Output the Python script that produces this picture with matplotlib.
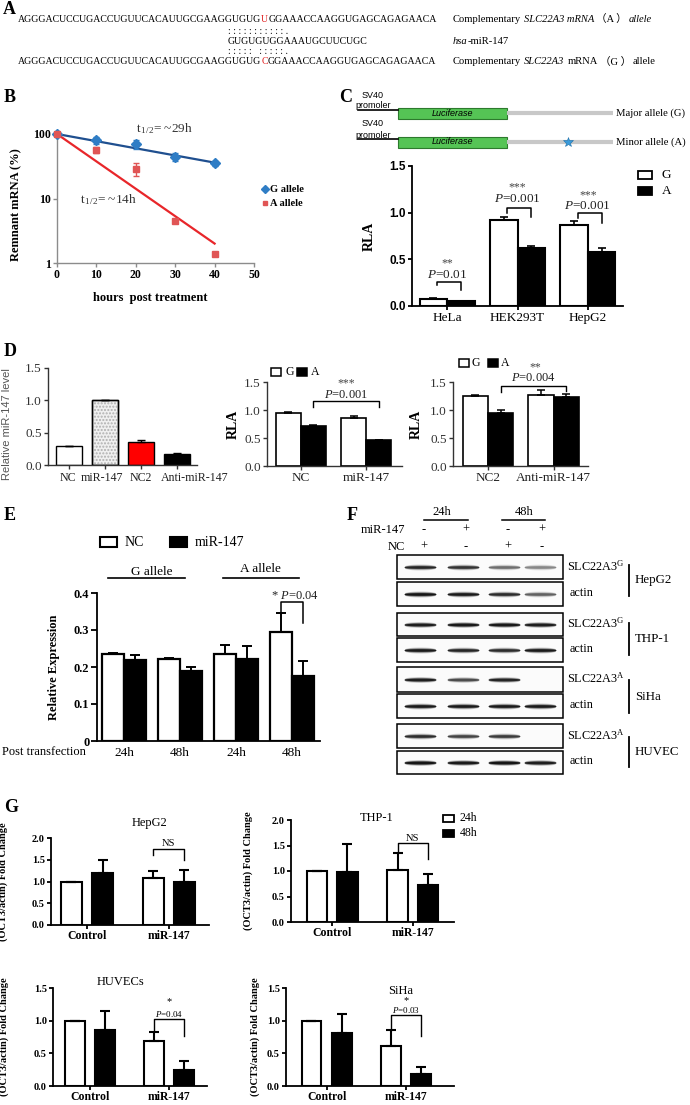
import numpy as np
import matplotlib
matplotlib.use('Agg')
import matplotlib.pyplot as plt
from matplotlib.patches import Rectangle
from matplotlib.ticker import NullLocator

# ---------------- data ----------------
# A: sequences
seq_left = "AGGGACUCCUGACCUGUUCACAUUGCGAAGGUGUG"
seq_right = "GGAAACCAAGGUGAGCAGAGAACA"
snp_minor = "U"
snp_major = "C"
mir147_seq = "GUGUGUGGAAAUGCUUCUGC"
pair_top = ": : : : : : : : : : : ."
pair_bottom = ": : : : :   : : : : : ."

# B: mRNA decay
b_hours = [0, 10, 20, 30, 40]
b_G = [100, 80, 70, 44, 35]
b_G_err = [4, 9, 11, 6, 3]
b_A = [100, 57, 29, 4.5, 1.4]
b_A_err = [3, 6, 7, 0.3, 0.1]
b_fit_hours = [0, 40]
b_G_fit = [100, 36]
b_A_fit = [100, 2.0]

# C: luciferase
c_cells = ['HeLa', 'HEK293T', 'HepG2']
c_G = [0.08, 0.92, 0.87]
c_G_err = [0.005, 0.035, 0.04]
c_A = [0.05, 0.62, 0.58]
c_A_err = [0.003, 0.02, 0.04]
c_p = ['0.01', '0.001', '0.001']
c_stars = ['**', '***', '***']

# D
d1_groups = ['NC', 'miR-147', 'NC2', 'Anti-miR-147']
d1_vals = [0.29, 1.0, 0.35, 0.17]
d1_err = [0.01, 0.0, 0.03, 0.015]
d2_groups = ['NC', 'miR-147']
d2_G = [0.94, 0.86]
d2_G_err = [0.03, 0.03]
d2_A = [0.71, 0.46]
d2_A_err = [0.02, 0.01]
d3_groups = ['NC2', 'Anti-miR-147']
d3_G = [1.25, 1.27]
d3_G_err = [0.01, 0.08]
d3_A = [0.95, 1.24]
d3_A_err = [0.05, 0.05]

# E
e_times = ['24h', '48h', '24h', '48h']
e_NC = [0.235, 0.221, 0.235, 0.295]
e_NC_err = [0.003, 0.002, 0.025, 0.05]
e_mir = [0.218, 0.188, 0.221, 0.175]
e_mir_err = [0.015, 0.013, 0.035, 0.04]

# F: western blot band intensities (lanes: 24h NC, 24h miR, 48h NC, 48h miR)
f_mir = ['-', '+', '-', '+']
f_nc = ['+', '-', '+', '-']
f_hepg2_slc = [0.85, 0.75, 0.45, 0.35]
f_hepg2_actin = [1.0, 0.95, 0.8, 0.5]
f_thp1_slc = [0.9, 0.95, 0.95, 0.9]
f_thp1_actin = [0.95, 0.85, 0.8, 0.95]
f_siha_slc = [0.9, 0.6, 0.85, 0.0]
f_siha_actin = [0.95, 0.95, 0.95, 0.95]
f_huvec_slc = [0.8, 0.65, 0.7, 0.0]
f_huvec_actin = [1.0, 0.95, 1.0, 0.9]

# G
g_groups = ['Control', 'miR-147']
g_hepg2_24 = [1.0, 1.08]; g_hepg2_24_err = [0.0, 0.15]
g_hepg2_48 = [1.19, 0.98]; g_hepg2_48_err = [0.30, 0.28]
g_thp1_24 = [1.0, 1.02]; g_thp1_24_err = [0.0, 0.33]
g_thp1_48 = [0.98, 0.73]; g_thp1_48_err = [0.55, 0.22]
g_huvec_24 = [1.0, 0.69]; g_huvec_24_err = [0.0, 0.14]
g_huvec_48 = [0.85, 0.25]; g_huvec_48_err = [0.30, 0.13]
g_siha_24 = [1.0, 0.61]; g_siha_24_err = [0.0, 0.24]
g_siha_48 = [0.81, 0.18]; g_siha_48_err = [0.29, 0.11]

# ---------------- setup ----------------
W, H, DPI = 690, 1105, 100
SERIF = ['Liberation Serif', 'Noto Sans CJK SC', 'DejaVu Serif']
SANS = ['Liberation Sans', 'DejaVu Sans']
plt.rcParams['font.family'] = SERIF
plt.rcParams['mathtext.fontset'] = 'custom'
plt.rcParams['mathtext.rm'] = 'Liberation Serif'
plt.rcParams['mathtext.it'] = 'Liberation Serif:italic'
plt.rcParams['mathtext.bf'] = 'Liberation Serif:bold'

fig = plt.figure(figsize=(W / DPI, H / DPI), dpi=DPI)
fig.patch.set_facecolor('white')


def add_ax(l, t, r, b):
    ax = fig.add_axes([l / W, 1 - b / H, (r - l) / W, (b - t) / H])
    ax.patch.set_alpha(0)
    return ax


axO = fig.add_axes([0, 0, 1, 1])
axO.set_xlim(0, W)
axO.set_ylim(H, 0)
axO.set_axis_off()
axO.set_zorder(5)


def T(x, y, s, size=9, **kw):
    kw.setdefault('ha', 'left')
    kw.setdefault('va', 'center')
    return axO.text(x, y, s, fontsize=size, **kw)


renderer = fig.canvas.get_renderer()


def chain(x, y, pieces, size):
    for s, st, gap in pieces:
        t = T(x, y, s, size=size, **st)
        bb = t.get_window_extent(renderer)
        x += bb.width + gap


def style(ax, color='black', lw=1.2, tl=3):
    for s in ['top', 'right']:
        ax.spines[s].set_visible(False)
    for s in ['left', 'bottom']:
        ax.spines[s].set_color(color)
        ax.spines[s].set_linewidth(lw)
    ax.tick_params(direction='out', length=tl, width=lw, color=color, pad=1.5)


def upbars(ax, x, v, e, lw=1.2, cap=3):
    ax.errorbar(x, v, yerr=[np.zeros(len(e)), e], fmt='none', ecolor='black',
                elinewidth=lw, capsize=cap, capthick=lw, zorder=3)


def bracket(ax, x1, x2, ytop, y1, y2, lw=1.0):
    ax.plot([x1, x1, x2, x2], [y1, ytop, ytop, y2], color='black', lw=lw,
            clip_on=False, zorder=4)


def box_leg(x, y, w, h, fc, lw=1.3):
    axO.add_patch(Rectangle((x, y - h / 2), w, h, fc=fc, ec='black', lw=lw))


# ---------------- panel letters ----------------
for lab, (lx, ly) in {'A': (3, 10), 'B': (4, 97), 'C': (339, 97), 'D': (4, 352),
                      'E': (4, 515), 'F': (347, 515), 'G': (4, 808)}.items():
    T(lx, ly, lab, size=13, fontweight='bold')

# ---------------- A ----------------
red = dict(color='#e02020')
chain(18, 19, [(seq_left, {}, 0), (snp_minor, red, 0), (seq_right, {}, 0)], 7.1)
T(228, 31, pair_top, size=7)
T(228, 41, mir147_seq, size=7.1)
T(228, 51, pair_bottom, size=7)
chain(18, 62, [(seq_left, {}, 0), (snp_major, red, 0), (seq_right, {}, 0)], 7.1)
it = dict(style='italic')
chain(453, 19, [('Complementary', {}, 3), ('SLC22A3 mRNA', it, 2), ('（A ）', {}, 2),
                ('allele', it, 0)], 7.6)
chain(453, 41, [('hsa', it, 0), ('-miR-147', {}, 0)], 7.6)
chain(453, 62, [('Complementary', {}, 3), ('SLC22A3', it, 3), ('mRNA', {}, 2),
                ('（G ）', {}, 2), ('allele', {}, 0)], 7.6)

# ---------------- B ----------------
axB = add_ax(57, 134, 254, 263)
axB.set_yscale('log')
axB.plot(b_fit_hours, b_G_fit, color='#1f4f8f', lw=1.6, zorder=2)
axB.plot(b_fit_hours, b_A_fit, color='#e8262a', lw=1.6, zorder=2)
axB.errorbar(b_hours, b_G, yerr=b_G_err, fmt='D', ms=5, color='#2f7dc5',
             ecolor='#2f7dc5', elinewidth=1, capsize=2, zorder=3, clip_on=False)
axB.errorbar(b_hours, b_A, yerr=b_A_err, fmt='s', ms=4, color='#e05555',
             ecolor='#e05555', elinewidth=1, capsize=2, zorder=3, clip_on=False)
axB.set_xlim(0, 50)
axB.set_ylim(1, 100)
axB.set_xticks(range(0, 51, 10))
axB.set_xticklabels([str(v) for v in range(0, 51, 10)], fontweight='bold', fontsize=8.5)
axB.set_yticks([1, 10, 100])
axB.set_yticklabels(['1', '10', '100'], fontweight='bold', fontsize=8.5)
axB.yaxis.set_minor_locator(NullLocator())
style(axB, color='#8c8c8c', lw=1.0)
axB.set_ylabel('Remnant mRNA (%)', fontweight='bold', fontsize=9)
axB.yaxis.set_label_coords((22 - 57) / 197, 0.45)
T(150, 298, 'hours  post treatment', size=9, fontweight='bold', ha='center')
T(136, 129, r't$_{\,1/2}$= ~29h', size=9.5, color='#333333')
T(80, 200, r't$_{\,1/2}$= ~14h', size=9.5, color='#333333')
axO.plot([265], [189], marker='D', ms=4, color='#2f7dc5')
T(270, 189, 'G allele', size=7.5, fontweight='bold')
axO.plot([265], [203], marker='s', ms=3.5, color='#e05555')
T(270, 203, 'A allele', size=7.5, fontweight='bold')

# ---------------- C schematic ----------------
for yc, lab, star in [(113, 'Major allele (G)', False), (142, 'Minor allele (A)', True)]:
    T(373, yc - 18, 'SV40', size=6.5, family=SANS, ha='center')
    T(373, yc - 7, 'promoler', size=6.5, family=SANS, ha='center')
    axO.plot([358, 398], [yc - 3, yc - 3], color='black', lw=1.2)
    axO.plot([507, 613], [yc, yc], color='#c8c8c8', lw=3, solid_capstyle='butt')
    axO.add_patch(Rectangle((398, yc - 5.5), 109, 11, fc='#55c455', ec='#2d7a2d', lw=0.8))
    T(452, yc, 'Luciferase', size=6.5, family=SANS, style='italic', ha='center')
    T(616, yc, lab, size=7.7)
    if star:
        axO.plot([568], [yc], marker='*', ms=7, color='#3a9ad9', mec='#1f6fa8', mew=0.4)

# ---------------- C bars ----------------
axC = add_ax(412, 166, 623, 306)
xc = np.arange(len(c_cells))
wc = 0.39
axC.bar(xc - wc / 2, c_G, wc, fc='white', ec='black', lw=1.5, zorder=2)
axC.bar(xc + wc / 2, c_A, wc, fc='black', ec='black', lw=1.5, zorder=2)
upbars(axC, xc - wc / 2, c_G, c_G_err)
upbars(axC, xc + wc / 2, c_A, c_A_err)
axC.set_ylim(0, 1.5)
axC.set_xlim(-0.5, 2.5)
axC.set_yticks([0, 0.5, 1.0, 1.5])
axC.set_yticklabels(['0.0', '0.5', '1.0', '1.5'], family=SANS, fontweight='bold', fontsize=8.5)
axC.set_xticks(xc)
axC.set_xticklabels(c_cells, fontsize=9.5)
style(axC, lw=1.3)
axC.set_ylabel('RLA', fontweight='bold', fontsize=10)
axC.yaxis.set_label_coords((376 - 412) / 211, 0.5)
c_br = [(0.26, 0.22, 0.17, 0.33, 0.46), (1.05, 1.0, 0.95, 1.15, 1.27), (1.0, 0.94, 0.89, 1.07, 1.19)]
for i, (top, y1, y2, yp, ys) in enumerate(c_br):
    bracket(axC, xc[i] - wc / 2 + 0.05, xc[i] + wc / 2, top, y1, y2, lw=1.1)
    axC.text(xc[i], yp, r'$\it{P}$=' + c_p[i], ha='center', va='center', fontsize=9.5, color='#222')
    axC.text(xc[i], ys, c_stars[i], ha='center', va='center', fontsize=8.5, color='#444')
box_leg(638, 175, 14, 8, 'white')
T(662, 175, 'G', size=9.5)
box_leg(638, 191, 14, 8, 'black')
T(662, 191, 'A', size=9.5)

# ---------------- D1 ----------------
axD1 = add_ax(48, 368, 197, 465)
xd1 = np.arange(len(d1_groups))
wd1 = 0.72
d1_colors = ['white', '#f0f0f0', '#ff0000', 'black']
axD1.bar(xd1, d1_vals, wd1, fc=d1_colors, ec='black', lw=1.0, zorder=2)
axD1.bar(xd1[1:2], d1_vals[1:2], wd1, fc='none', ec='#b0b0b0', lw=0, hatch='.....', zorder=2.5)
axD1.bar(xd1[1:2], d1_vals[1:2], wd1, fc='none', ec='black', lw=1.0, zorder=2.6)
upbars(axD1, xd1, d1_vals, d1_err, lw=1.0, cap=3)
axD1.set_ylim(0, 1.5)
axD1.set_xlim(-0.58, 3.55)
axD1.set_yticks([0, 0.5, 1.0, 1.5])
axD1.set_yticklabels(['0.0', '0.5', '1.0', '1.5'], fontsize=9.5, color='#333')
axD1.set_xticks(xd1)
axD1.set_xticklabels([])
style(axD1, color='#333', lw=1.0)
for lab, lx in zip(d1_groups, [68, 102, 141, 195]):
    T(lx, 478, lab, size=8.6, ha='center', color='#222')
axD1.set_ylabel('Relative miR-147 level', family=SANS, fontsize=8, color='#555')
axD1.yaxis.set_label_coords((12 - 48) / 149, 0.42)

# ---------------- D2 / D3 ----------------
def d_panel(box, groups, G, Ge, A, Ae, xlim, ylab_x):
    ax = add_ax(*box)
    x = np.arange(len(groups))
    w = 0.385
    ax.bar(x - w / 2, G, w, fc='white', ec='black', lw=1.2, zorder=2)
    ax.bar(x + w / 2, A, w, fc='black', ec='black', lw=1.2, zorder=2)
    upbars(ax, x - w / 2, G, Ge, lw=1.1, cap=3)
    upbars(ax, x + w / 2, A, Ae, lw=1.1, cap=3)
    ax.set_ylim(0, 1.5)
    ax.set_xlim(*xlim)
    ax.set_yticks([0, 0.5, 1.0, 1.5])
    ax.set_yticklabels(['0.0', '0.5', '1.0', '1.5'], fontsize=9.5, color='#333')
    ax.set_xticks(x)
    ax.set_xticklabels(groups, fontsize=9.5, color='#222')
    style(ax, color='#333', lw=1.0)
    ax.set_ylabel('RLA', fontweight='bold', fontsize=10)
    ax.yaxis.set_label_coords((ylab_x - box[0]) / (box[2] - box[0]), 0.5)
    return ax, x, w


axD2, xd2, wd2 = d_panel((267, 382, 402, 466), d2_groups, d2_G, d2_G_err, d2_A, d2_A_err,
                         (-0.52, 1.55), 240)
bracket(axD2, xd2[0] + wd2 / 2, xd2[1] + wd2 / 2, 1.16, 1.05, 1.05)
axD2.text(0.5 + wd2 / 2, 1.27, r'$\it{P}$=0.001', ha='center', va='center', fontsize=9, color='#222')
axD2.text(0.5 + wd2 / 2, 1.48, '***', ha='center', va='center', fontsize=8.5, color='#444')
box_leg(271, 372, 10, 8, 'white', lw=1.1)
T(285, 372, 'G', size=8.5)
box_leg(297, 372, 10, 8, 'black', lw=1.1)
T(311, 372, 'A', size=8.5)

axD3, xd3, wd3 = d_panel((453, 382, 588, 466), d3_groups, d3_G, d3_G_err, d3_A, d3_A_err,
                         (-0.53, 1.52), 423)
bracket(axD3, xd3[0] + wd3 / 2, xd3[1] + wd3 / 2, 1.43, 1.33, 1.34)
axD3.text(0.5 + wd3 / 2, 1.57, r'$\it{P}$=0.004', ha='center', va='center', fontsize=9, color='#222')
axD3.text(0.5 + wd3 / 2 + 0.02, 1.76, '**', ha='center', va='center', fontsize=8.5, color='#444')
box_leg(459, 363, 10, 8, 'white', lw=1.1)
T(472, 363, 'G', size=8.5)
box_leg(488, 363, 10, 8, 'black', lw=1.1)
T(501, 363, 'A', size=8.5)

# ---------------- E ----------------
axE = add_ax(97, 593, 320, 741)
xe = np.arange(len(e_times))
we = 0.39
axE.bar(xe - we / 2, e_NC, we, fc='white', ec='black', lw=1.6, zorder=2)
axE.bar(xe + we / 2, e_mir, we, fc='black', ec='black', lw=1.6, zorder=2)
upbars(axE, xe - we / 2, e_NC, e_NC_err, lw=1.4, cap=3.5)
upbars(axE, xe + we / 2, e_mir, e_mir_err, lw=1.4, cap=3.5)
axE.set_ylim(0, 0.4)
axE.set_xlim(-0.48, 3.5)
axE.set_yticks([0, 0.1, 0.2, 0.3, 0.4])
axE.set_yticklabels(['0', '0.1', '0.2', '0.3', '0.4'], fontweight='bold', fontsize=9)
axE.set_xticks(xe)
axE.set_xticklabels(e_times, fontsize=9.5)
style(axE, lw=1.3, tl=4)
axE.tick_params(axis='x', length=0, pad=4)
axE.set_ylabel('Relative Expression', fontweight='bold', fontsize=9)
axE.yaxis.set_label_coords((60 - 97) / 223, 0.5)
T(44, 752, 'Post transfection', size=9, ha='center')
bracket(axE, xe[3] - we / 2, xe[3] + we / 2, 0.376, 0.346, 0.32, lw=1.1)
axE.text(2.62, 0.392, r'* $\it{P}$=0.04', ha='left', va='center', fontsize=9, color='#222')
box_leg(100, 542, 17, 10, 'white', lw=1.5)
T(125, 542, 'NC', size=10)
box_leg(170, 542, 17, 10, 'black', lw=1.5)
T(195, 542, 'miR-147', size=10)
T(152, 572, 'G allele', size=9.5, ha='center')
axO.plot([108, 185], [578, 578], color='black', lw=1.2)
T(260, 569, 'A allele', size=9.5, ha='center')
axO.plot([223, 299], [578, 578], color='black', lw=1.2)

# ---------------- F ----------------
T(442, 512, '24h', size=9, ha='center')
axO.plot([424, 468], [520, 520], color='black', lw=1.1)
T(524, 512, '48h', size=9, ha='center')
axO.plot([502, 545], [520, 520], color='black', lw=1.1)
T(405, 530, 'miR-147', size=9, ha='right')
T(405, 547, 'NC', size=9, ha='right')
lane_x = [424, 466, 508, 542]
for i in range(4):
    T(lane_x[i], 530, f_mir[i], size=9, ha='center')
    T(lane_x[i], 547, f_nc[i], size=9, ha='center')

blot_rows = [(555, 579, f_hepg2_slc), (582, 606, f_hepg2_actin),
             (613, 636, f_thp1_slc), (638, 662, f_thp1_actin),
             (667, 692, f_siha_slc), (694, 718, f_siha_actin),
             (724, 748, f_huvec_slc), (751, 774, f_huvec_actin)]
band_x = [420, 463, 504, 540]
band_w = 32
for (y0, y1, inten) in blot_rows:
    axO.add_patch(Rectangle((397, y0), 166, y1 - y0, fc='#fbfbfb', ec='black', lw=1.1))
    cy = (y0 + y1) / 2
    for cx, v in zip(band_x, inten):
        if v <= 0:
            continue
        xs = np.linspace(cx - band_w / 2, cx + band_w / 2, 40)
        prof = np.clip(1 - ((xs - cx) / (band_w / 2)) ** 2, 0, 1) ** 0.35
        for th, al in [(6.0, 0.2), (4.2, 0.5), (2.6, 1.0)]:
            axO.fill_between(xs, cy - th / 2 * prof, cy + th / 2 * prof,
                             color='#151515', alpha=v * al, lw=0)

slc_labels = ['SLC22A3$^{\\mathrm{G}}$', 'actin', 'SLC22A3$^{\\mathrm{G}}$', 'actin',
              'SLC22A3$^{\\mathrm{A}}$', 'actin', 'SLC22A3$^{\\mathrm{A}}$', 'actin']
for (y0, y1, _), lab in zip(blot_rows, slc_labels):
    T(567 if lab != 'actin' else 570, (y0 + y1) / 2 - 1, lab, size=8.8)
for (ya, yb, lab) in [(565, 596, 'HepG2'), (623, 655, 'THP-1'), (680, 713, 'SiHa'), (737, 767, 'HUVEC')]:
    axO.plot([629, 629], [ya, yb], color='black', lw=1.3)
    T(635, (ya + yb) / 2, lab, size=9.3)

# ---------------- G ----------------
def g_panel(box, v24, e24, v48, e48, ymax, yticks, xlim, ylab_x):
    ax = add_ax(*box)
    x = np.arange(len(g_groups))
    w, off = 0.25, 0.19
    ax.bar(x - off, v24, w, fc='white', ec='black', lw=1.5, zorder=2)
    ax.bar(x + off, v48, w, fc='black', ec='black', lw=1.5, zorder=2)
    upbars(ax, x - off, v24, e24, lw=1.5, cap=3.5)
    upbars(ax, x + off, v48, e48, lw=1.5, cap=3.5)
    ax.set_ylim(0, ymax)
    ax.set_xlim(*xlim)
    ax.set_yticks(yticks)
    ax.set_yticklabels(['%.1f' % v for v in yticks], fontweight='bold', fontsize=7.5)
    ax.set_xticks(x)
    ax.set_xticklabels(g_groups, fontweight='bold', fontsize=8.5)
    style(ax, lw=1.3, tl=3)
    ax.tick_params(axis='x', pad=0.5)
    ax.set_ylabel('(OCT3/actin) Fold Change', fontweight='bold', fontsize=7.5)
    ax.yaxis.set_label_coords((ylab_x - box[0]) / (box[2] - box[0]), 0.5)
    return ax, x, off


t20 = [0, 0.5, 1.0, 1.5, 2.0]
t15 = [0, 0.5, 1.0, 1.5]
axG1, xg, og = g_panel((51, 838, 209, 925), g_hepg2_24, g_hepg2_24_err, g_hepg2_48, g_hepg2_48_err,
                       2.0, t20, (-0.44, 1.49), 8)
bracket(axG1, 1 - og, 1 + og, 1.74, 1.60, 1.49)
axG1.text(1, 1.88, 'NS', ha='center', va='center', fontsize=7.5)
T(150, 823, 'HepG2', size=9, ha='center')

axG2, _, _ = g_panel((291, 820, 454, 922), g_thp1_24, g_thp1_24_err, g_thp1_48, g_thp1_48_err,
                     2.0, t20, (-0.51, 1.51), 253)
bracket(axG2, 1 - og, 1 + og, 1.55, 1.37, 1.23)
axG2.text(1, 1.64, 'NS', ha='center', va='center', fontsize=7.5)
T(377, 818, 'THP-1', size=9, ha='center')
box_leg(443, 818, 11, 7, 'white', lw=1.3)
T(460, 818, '24h', size=8.5)
box_leg(443, 833, 11, 7, 'black', lw=1.3)
T(460, 833, '48h', size=8.5)

axG3, _, _ = g_panel((53, 988, 207, 1086), g_huvec_24, g_huvec_24_err, g_huvec_48, g_huvec_48_err,
                     1.5, t15, (-0.47, 1.48), 9)
bracket(axG3, 1 - og, 1 + og, 1.03, 0.85, 0.77)
axG3.text(1, 1.10, r'$\it{P}$=0.04', ha='center', va='center', fontsize=6.5)
axG3.text(1, 1.29, '*', ha='center', va='center', fontsize=7.5)
T(121, 982, 'HUVECs', size=9, ha='center')

axG4, _, _ = g_panel((286, 988, 454, 1086), g_siha_24, g_siha_24_err, g_siha_48, g_siha_48_err,
                     1.5, t15, (-0.51, 1.6), 260)
bracket(axG4, 1 - og, 1 + og, 1.09, 0.86, 0.77)
axG4.text(1, 1.16, r'$\it{P}$=0.03', ha='center', va='center', fontsize=6.5)
axG4.text(1, 1.31, '*', ha='center', va='center', fontsize=7.5)
T(401, 991, 'SiHa', size=9, ha='center')

fig.savefig('out.png', dpi=DPI, facecolor='white')
